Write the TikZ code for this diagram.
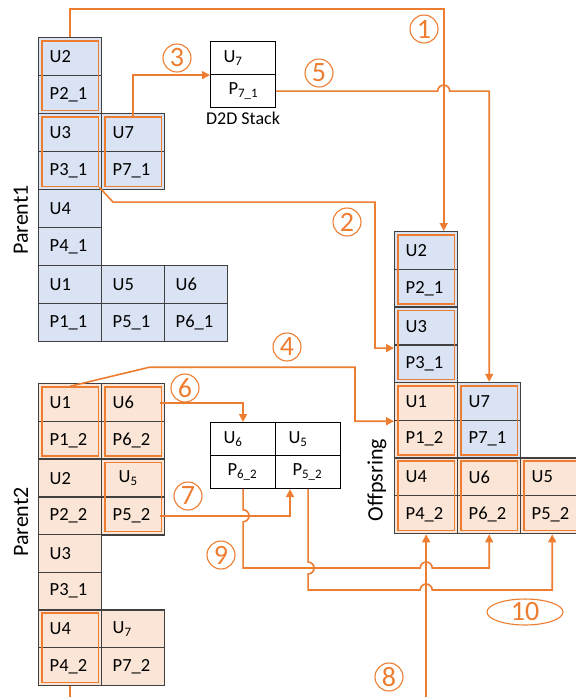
\documentclass[tikz,border=0pt]{standalone}
\usepackage{fontspec}
\setmainfont{Carlito}
\usetikzlibrary{positioning,fit,shapes.geometric,arrows.meta}

\definecolor{ored}{HTML}{ED7D31}
\definecolor{blu}{HTML}{DAE3F3}
\definecolor{pch}{HTML}{FBE5D6}

\tikzset{
  cell/.style={draw=black!75, line width=1.4pt, anchor=north west, minimum width=63pt, minimum height=38pt,
    text width=41pt, inner xsep=11pt, inner ysep=0pt, align=left, font=\fontsize{18.5}{20}\selectfont},
  dcell/.style={draw=black, line width=1.1pt, anchor=north west, minimum width=65pt, minimum height=33pt,
    text width=39pt, inner xsep=13pt, inner ysep=0pt, align=left, font=\fontsize{18.5}{20}\selectfont},
  obox/.style={draw=ored, line width=1.5pt, inner sep=-4pt},
  conn/.style={draw=ored, line width=1.6pt},
  num/.style={circle, draw=ored, text=ored, line width=1.1pt, minimum size=28pt, inner sep=0pt,
    font=\fontsize{28}{30}\selectfont},
  lab/.style={rotate=90, font=\fontsize{22}{24}\selectfont},
  >={Triangle[length=8pt, width=8pt]}
}

\begin{document}
\begin{tikzpicture}[x=1pt,y=-1pt]
\useasboundingbox (0,0) rectangle (576,697);

% Parent1
\foreach \c/\r/\t/\n in {0/0/U2/u2, 0/1/P2\_1/p2, 0/2/U3/u3, 0/3/P3\_1/p3, 0/4/U4/u4, 0/5/P4\_1/p4,
    0/6/U1/u1, 0/7/P1\_1/p1, 1/2/U7/u7, 1/3/P7\_1/p7, 1/6/U5/u5, 1/7/P5\_1/p5, 2/6/U6/u6, 2/7/P6\_1/p6}
  \node[cell, fill=blu] (pa-\n) at (38+63*\c, 37+38*\r) {\t};

% Parent2
\foreach \c/\r/\t/\n in {0/0/U1/u1, 0/1/P1\_2/p1, 0/2/U2/u2, 0/3/P2\_2/p2, 0/4/U3/u3, 0/5/P3\_1/p3,
    0/6/U4/u4, 0/7/P4\_2/p4, 1/0/U6/u6, 1/1/P6\_2/p6, 1/2/\hspace*{6pt}U\textsubscript{5}/u5,
    1/3/P5\_2/p5, 1/6/U\textsubscript{7}/u7, 1/7/P7\_2/p7}
  \node[cell, fill=pch] (pb-\n) at (38+63*\c, 383+37.7*\r) {\t};

% Offspring
\foreach \c/\r/\t/\n in {0/0/U2/u2, 0/1/P2\_1/p2, 0/2/U3/u3, 0/3/P3\_1/p3, 1/4/U7/u7, 1/5/P7\_1/p7}
  \node[cell, fill=blu] (of-\n) at (394+63*\c, 231+37.7*\r) {\t};
\foreach \c/\r/\t/\n in {0/4/U1/u1, 0/5/P1\_2/p1, 0/6/U4/u4, 0/7/P4\_2/p4, 1/6/U6/u6, 1/7/P6\_2/p6,
    2/6/U5/u5, 2/7/P5\_2/p5}
  \node[cell, fill=pch] (of-\n) at (394+63*\c, 231+37.7*\r) {\t};

% orange frames round the U/P pairs
\foreach \b/\k in {pa/2, pa/3, pa/7, pb/1, pb/6, pb/5, pb/4, of/2, of/3, of/1, of/7, of/4, of/6, of/5}
  \node[obox, fit=(\b-u\k)(\b-p\k)] (\b-o\k) {};

% D2D stacks
\node[dcell] (ds-u7) at (210,41) {U\textsubscript{7}};
\node[dcell] (ds-p7) at (210,74) {\hspace*{5pt}P\textsubscript{7\_1}};
\node[below=0pt of ds-p7, font=\fontsize{18}{20}\selectfont] (ds-lab) {D2D Stack};

\node[dcell] (dt-u6) at (210,422) {U\textsubscript{6}};
\node[dcell] (dt-u5) at (275,422) {U\textsubscript{5}};
\node[dcell] (dt-p6) at (210,455) {\hspace*{4pt}P\textsubscript{6\_2}};
\node[dcell] (dt-p5) at (275,455) {\hspace*{4pt}P\textsubscript{5\_2}};

\node[lab] (lab-pa) at (21,220) {Parent1};
\node[lab] (lab-pb) at (21,522) {Parent2};
\node[lab] (lab-of) at (377,480) {Offpsring};

% connectors
\coordinate (in1) at ([xshift=17.5pt]of-u2.north);
\coordinate (in2) at ([yshift=-4pt]of-p3.north west);
\coordinate (in7) at ([xshift=15pt]dt-p5.south west);
\coordinate (lv9) at (0,568);
\coordinate (lv10) at (0,590);

\draw[conn,->] (pa-u2.north) |- (in1 |- 0,9) -- (in1);
\draw[conn,->] (pa-o3.south east) -- ++(14,15) -| ([xshift=-19pt]in2) -- (in2);
\draw[conn,->] (pa-o7.north) |- (ds-u7.south west);
\draw[conn,->] (pb-o1.north) -- ++(79,-19) -| ([xshift=-39pt]of-u1.south west) -- (of-u1.south west);
\draw[conn,->] (ds-p7.east) -- ([xshift=-6pt]in1 |- ds-p7.east) arc (180:360:6) -| (of-u7.north);
\draw[conn,->] ([xshift=-5pt]pb-u6.east) -| (dt-u6.north);
\draw[conn,->] ([xshift=-5pt]pb-p5.east) -| (in7);
\draw[conn,->] (pb-p4.south) -- ++(0,40) -| (of-p4.south);
\draw[conn,->] (dt-p6.south) -- ([yshift=6pt]dt-p6.south |- pb-p5.east) arc (-90:90:6)
  |- ([xshift=-6pt]of-p4.south |- lv9) arc (180:360:6) -| (of-p6.south);
\draw[conn,->] (dt-p5.south) -- ([yshift=6pt]dt-p5.south |- lv9) arc (-90:90:6)
  |- ([xshift=-6pt]of-p4.south |- lv10) arc (180:360:6) -| (of-p5.south);

% step numbers
\node[num] (n1) at (424,29) {1};
\node[num] (n2) at (347,222) {2};
\node[num] (n3) at (177,58) {3};
\node[num] (n4) at (287,347) {4};
\node[num] (n5) at (319,73) {5};
\node[num] (n6) at (185,388) {6};
\node[num] (n7) at (188,496) {7};
\node[num] (n8) at (389,677) {8};
\node[num] (n9) at (221,555) {9};
\node[num, ellipse, minimum width=76pt, minimum height=24pt] (n10) at (525,612) {10};

\end{tikzpicture}
\end{document}
